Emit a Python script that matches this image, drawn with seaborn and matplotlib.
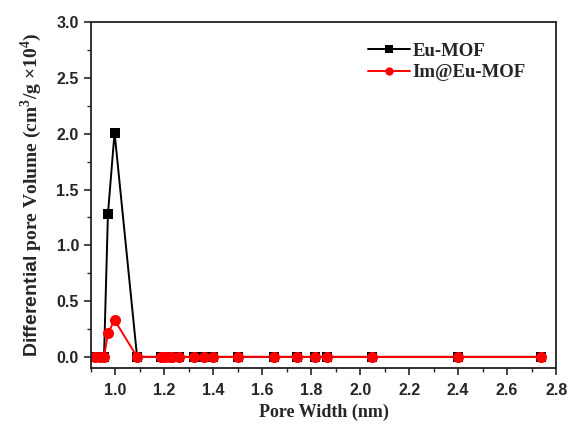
import matplotlib
matplotlib.use("Agg")
import matplotlib.pyplot as plt
import seaborn as sns
import pandas as pd
from matplotlib.ticker import MultipleLocator

pore_width = [0.916, 0.937, 0.954, 0.970, 0.997, 1.089, 1.185, 1.203, 1.223, 1.230,
              1.261, 1.322, 1.363, 1.398, 1.502, 1.649, 1.741, 1.816, 1.866, 2.048,
              2.399, 2.738]
eu_mof = [0, 0, 0, 1.28, 2.01, 0, 0, 0, 0, 0, 0, 0, 0, 0, 0, 0, 0, 0, 0, 0, 0, 0]
im_eu_mof = [0, 0, 0, 0.21, 0.33, 0, 0, 0, 0, 0, 0, 0, 0, 0, 0, 0, 0, 0, 0, 0, 0, 0]
series_names = ["Eu-MOF", "Im@Eu-MOF"]

sns.set_theme(style="ticks")
plt.rcParams["mathtext.fontset"] = "custom"
plt.rcParams["mathtext.rm"] = "Liberation Serif:bold"
plt.rcParams["mathtext.bf"] = "Liberation Serif:bold"
plt.rcParams["mathtext.sf"] = "Liberation Sans:bold"

df = pd.DataFrame({
    "x": pore_width * 2,
    "y": eu_mof + im_eu_mof,
    "series": [series_names[0]] * len(pore_width) + [series_names[1]] * len(pore_width),
})

fig = plt.figure(figsize=(5.71, 4.34), dpi=100)
ax = fig.add_axes([0.159, 0.152, 0.815, 0.797])

sns.lineplot(data=df, x="x", y="y", hue="series", style="series",
             palette={"Eu-MOF": "black", "Im@Eu-MOF": "#ff0000"},
             markers={"Eu-MOF": "s", "Im@Eu-MOF": "o"}, dashes=False,
             markersize=7, markeredgewidth=0, linewidth=1.4, ax=ax, sort=False)
for line in ax.get_lines():
    if line.get_color() == "#ff0000":
        line.set_markersize(8)

ax.set_xlim(0.9, 2.8)
ax.set_ylim(-0.1, 3.0)
ax.xaxis.set_minor_locator(MultipleLocator(0.1))
ax.yaxis.set_major_locator(MultipleLocator(0.5))
ax.yaxis.set_minor_locator(MultipleLocator(0.25))
ax.set_xticks([1.0, 1.2, 1.4, 1.6, 1.8, 2.0, 2.2, 2.4, 2.6, 2.8])
ax.tick_params(axis="both", which="major", direction="out", length=5, width=1.2,
               labelsize=11.5, top=False, right=False)
ax.tick_params(axis="x", which="major", pad=6)
ax.tick_params(axis="both", which="minor", direction="out", length=3, width=1.0,
               top=False, right=False)
for lab in ax.get_xticklabels() + ax.get_yticklabels():
    lab.set_fontfamily("Liberation Sans")
    lab.set_fontweight("bold")
for s in ax.spines.values():
    s.set_linewidth(1.3)
    s.set_color("#222222")

ax.set_xlabel("Pore Width (nm)", fontfamily="Liberation Serif", fontweight="bold",
              fontsize=13, labelpad=4)
ax.set_ylabel(r"$\mathsf{Differential}$ pore Volume (cm$^{3}$/g $\times$10$^{4}$)",
              fontfamily="Liberation Serif", fontweight="bold", fontsize=14, labelpad=9)

leg = ax.legend(loc="upper left", bbox_to_anchor=(0.56, 0.99), frameon=False,
                prop={"family": "Liberation Serif", "weight": "bold", "size": 13.5},
                handlelength=2.2, handletextpad=0.15, labelspacing=0.25)
for h in leg.legend_handles:
    h.set_markersize(6)

fig.savefig("out.png", dpi=100)
